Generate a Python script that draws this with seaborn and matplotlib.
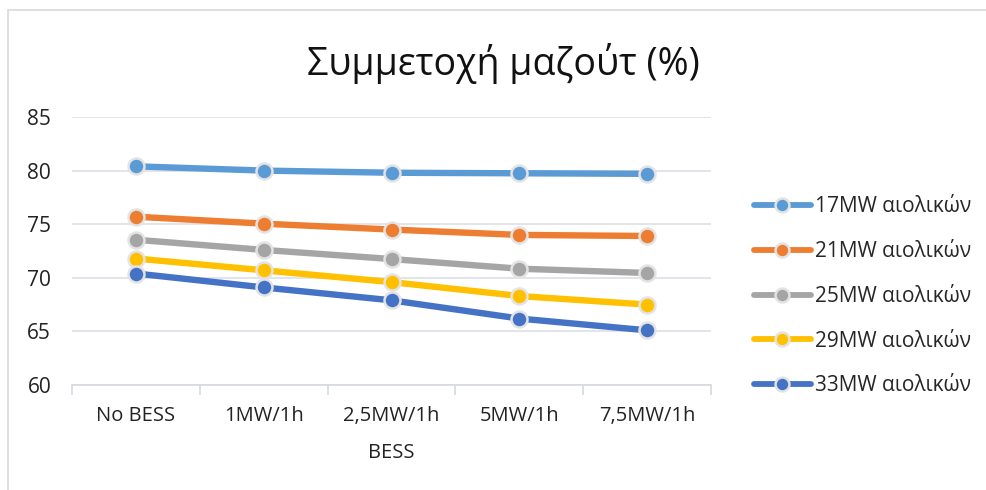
import matplotlib
matplotlib.use("Agg")
import matplotlib.pyplot as plt
from matplotlib.patches import Rectangle
from matplotlib.lines import Line2D
import seaborn as sns
import pandas as pd

# Fuel-oil share (%) for each wind capacity scenario across storage options
bess_options = ["No BESS", "1MW/1h", "2,5MW/1h", "5MW/1h", "7,5MW/1h"]
series_names = ["17MW αιολικών", "21MW αιολικών", "25MW αιολικών",
                "29MW αιολικών", "33MW αιολικών"]
wind_17 = [80.4, 80.0, 79.8, 79.75, 79.7]
wind_21 = [75.7, 75.05, 74.5, 74.0, 73.9]
wind_25 = [73.55, 72.6, 71.75, 70.85, 70.45]
wind_29 = [71.8, 70.7, 69.6, 68.3, 67.5]
wind_33 = [70.4, 69.1, 67.9, 66.2, 65.1]
y_ticks = [60, 65, 70, 75, 80, 85]

colors = ["#5B9BD5", "#ED7D31", "#A5A5A5", "#FFC000", "#4472C4"]

rows = []
for name, vals in zip(series_names, [wind_17, wind_21, wind_25, wind_29, wind_33]):
    for b, v in zip(bess_options, vals):
        rows.append({"BESS": b, "value": v, "series": name})
df = pd.DataFrame(rows)

sns.set_theme(style="white")
plt.rcParams["font.family"] = ["Open Sans", "DejaVu Sans"]

fig = plt.figure(figsize=(9.86, 4.9), dpi=100)
ax = fig.add_axes([72 / 986, 1 - 385 / 490, (711 - 72) / 986, (385 - 117) / 490])

sns.lineplot(data=df, x="BESS", y="value", hue="series", palette=colors,
             marker="o", markersize=11.5, markeredgecolor="#E3E3E3",
             markeredgewidth=1.8, linewidth=4.6, ax=ax, legend=False,
             zorder=3)

ax.set_xlim(-0.5, 4.5)
ax.set_ylim(60, 85)
ax.set_yticks(y_ticks)
ax.set_xticks(range(len(bess_options)))
ax.set_xticklabels(bess_options)
ax.set_xticks([i - 0.5 for i in range(len(bess_options) + 1)], minor=True)
ax.grid(axis="y", color="#DCDFE4", linewidth=1.2)
ax.set_axisbelow(True)

for s in ["top", "right", "left"]:
    ax.spines[s].set_visible(False)
ax.spines["bottom"].set_color("#D6D9DE")
ax.spines["bottom"].set_linewidth(1.2)

ax.tick_params(axis="x", which="major", length=0, pad=15, labelsize=14.5,
               labelcolor="#222222")
ax.tick_params(axis="x", which="minor", length=7, width=1.2, color="#D6D9DE",
               direction="out", bottom=True)
ax.tick_params(axis="y", length=0, pad=15, labelsize=15, labelcolor="#222222")

ax.set_xlabel("BESS", fontsize=14.5, color="#222222", labelpad=12)
ax.set_ylabel("")

fig.text(503 / 986, 1 - 64 / 490, "Συμμετοχή μαζούτ (%)", ha="center",
         va="center", fontsize=27, color="#111111")

handles = [Line2D([0], [0], color=c, linewidth=4.2, marker="o", markersize=10,
                  markeredgecolor="#E3E3E3", markeredgewidth=1.8)
           for c in colors]
fig.legend(handles, series_names, loc="upper left",
           bbox_to_anchor=(746 / 986, 1 - 188 / 490), frameon=False,
           fontsize=15, handlelength=2.7, handletextpad=0.2,
           labelspacing=1.14, borderaxespad=0)

fig.patches.append(Rectangle((8 / 986, -0.02), 1.02, 1 - 10 / 490 + 0.02,
                             transform=fig.transFigure, fill=False,
                             edgecolor="#D9D9D9", linewidth=1.2))

fig.savefig("out.png", dpi=100)
